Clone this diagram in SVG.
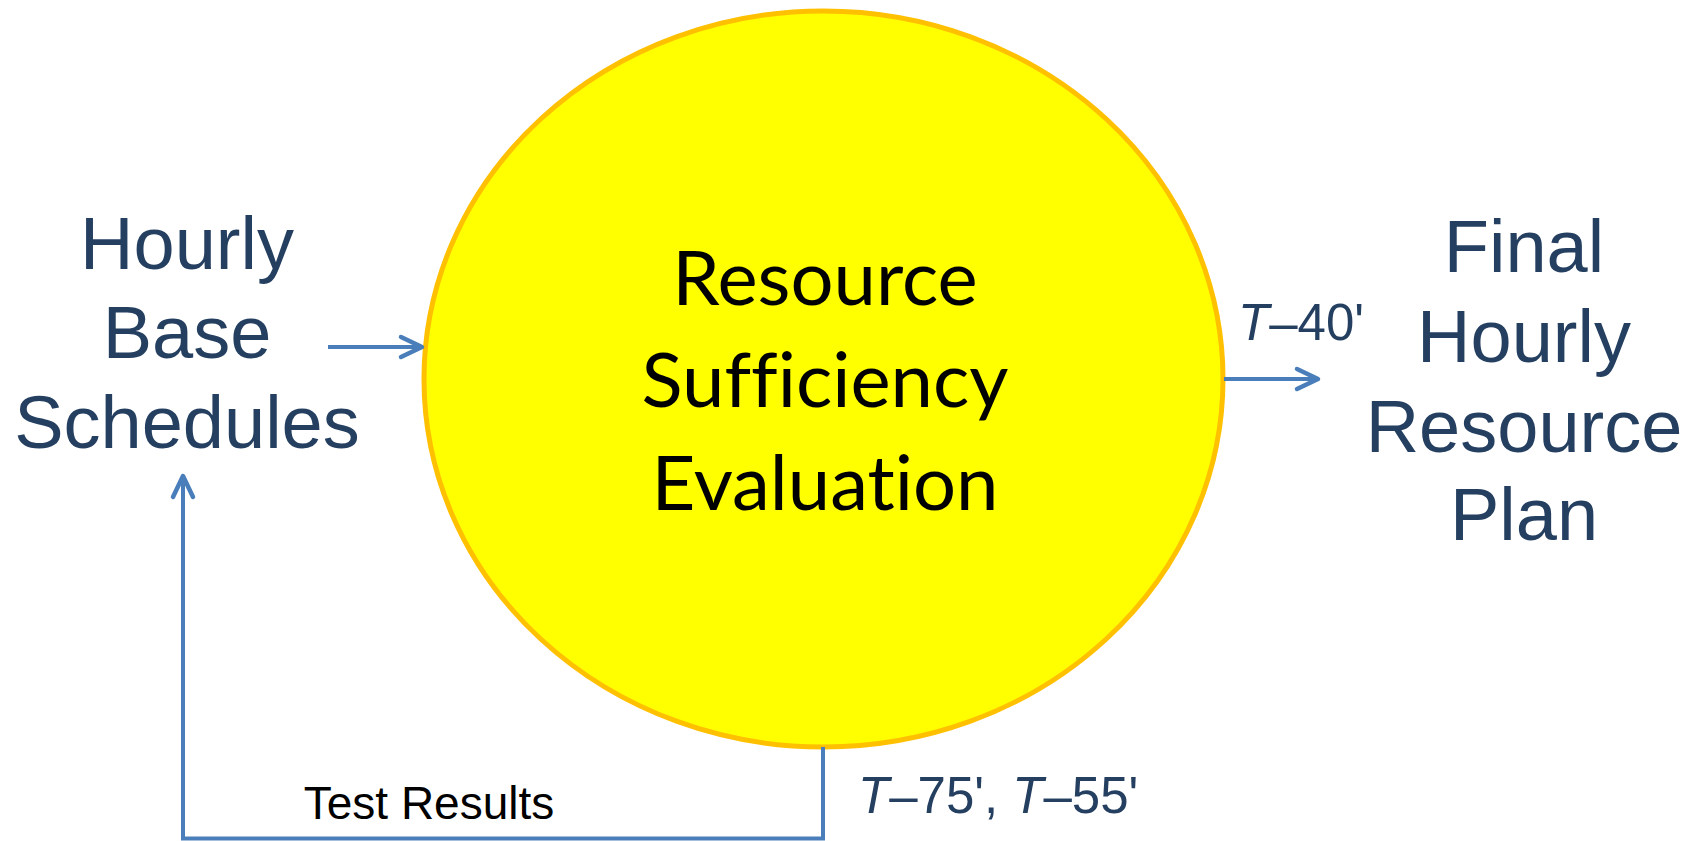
<svg xmlns="http://www.w3.org/2000/svg" width="1701" height="841" viewBox="0 0 1701 841">
<style>
.side{font-family:"Liberation Sans",Arial,sans-serif;font-size:74px;fill:#243f60;text-anchor:middle}
.core{font-family:Lato,"Open Sans",sans-serif;font-size:76px;fill:#000;text-anchor:middle;font-variant-ligatures:none;font-feature-settings:"liga" 0,"clig" 0}
.time{font-family:"Liberation Sans",Arial,sans-serif;font-size:51px;fill:#243f60}
.lab{font-family:"Liberation Sans",Arial,sans-serif;font-size:46px;fill:#000;text-anchor:middle}
.conn{fill:none;stroke:#4a7ebb;stroke-width:4}
</style>
<defs>
<marker id="arr" markerUnits="userSpaceOnUse" viewBox="-26 -14 30 28" markerWidth="30" markerHeight="28" refX="0" refY="0" orient="auto" overflow="visible">
<path d="M-21,-10 L0,0 L-21,10" fill="none" stroke="#4a7ebb" stroke-width="4.5" stroke-linecap="round" stroke-linejoin="round"/>
</marker>
</defs>
<rect width="1701" height="841" fill="#fff"/>
<g id="evaluation">
<ellipse cx="823.5" cy="379" rx="399.5" ry="368" fill="#ffff00" stroke="#ffc000" stroke-width="5"/>
<text class="core" x="825" y="305">Resource</text>
<text class="core" x="825" y="407">Sufficiency</text>
<text class="core" x="825" y="510">Evaluation</text>
</g>
<g id="base-schedules">
<text class="side" x="187" y="269">Hourly</text>
<text class="side" x="187" y="358">Base</text>
<text class="side" x="187" y="448">Schedules</text>
</g>
<g id="final-plan">
<text class="side" x="1524" y="272">Final</text>
<text class="side" x="1524" y="362">Hourly</text>
<text class="side" x="1524" y="452">Resource</text>
<text class="side" x="1524" y="540">Plan</text>
</g>
<g id="connectors">
<line class="conn" x1="328" y1="347" x2="422" y2="347" marker-end="url(#arr)"/>
<line class="conn" x1="1224" y1="379" x2="1318" y2="379" marker-end="url(#arr)"/>
<polyline class="conn" stroke-width="3.5" points="823,747 823,838.5 183,838.5 183,476" marker-end="url(#arr)"/>
<text class="time" x="1238" y="340"><tspan font-style="italic">T</tspan>–40'</text>
<text class="time" x="858" y="813"><tspan font-style="italic">T</tspan>–75', <tspan font-style="italic">T</tspan>–55'</text>
<text class="lab" x="429" y="819">Test Results</text>
</g>
</svg>
